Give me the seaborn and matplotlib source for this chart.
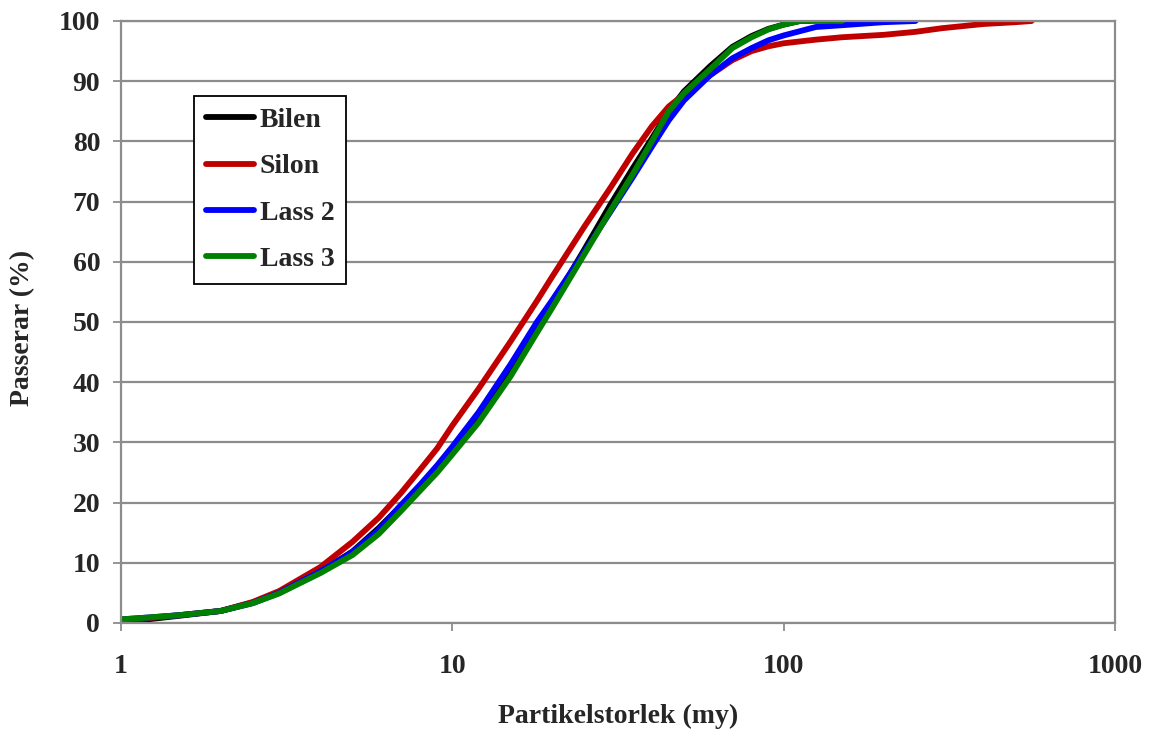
import numpy as np
import pandas as pd
import matplotlib
matplotlib.use("Agg")
import matplotlib.pyplot as plt
import seaborn as sns

# Particle size distributions (cumulative % passing vs particle size in my)
series_names = ["Bilen", "Silon", "Lass 2", "Lass 3"]
series_colors = ["#000000", "#C00000", "#0000FF", "#008000"]

bilen_size = [1, 1.2, 1.5, 2, 2.5, 3, 4, 5, 6, 7, 8, 9, 10, 12, 15, 18, 20, 25,
              30, 35, 40, 45, 50, 60, 70, 80, 90, 100, 112, 120]
bilen_pass = [0.2, 0.6, 1.2, 2.0, 3.4, 5.0, 8.5, 11.9, 15.8, 19.5, 22.6, 25.6,
              28.6, 34.0, 41.8, 48.9, 53.0, 62.0, 69.5, 75.5, 80.5, 85.0, 88.3,
              92.5, 95.7, 97.5, 98.7, 99.4, 100.0, 100.0]

silon_size = [1, 1.2, 1.5, 2, 2.5, 3, 4, 5, 6, 7, 8, 9, 10, 12, 15, 18, 20, 25,
              30, 35, 40, 45, 50, 60, 70, 80, 90, 100, 125, 150, 200, 250, 300,
              400, 500, 560]
silon_pass = [0.5, 0.8, 1.3, 2.0, 3.5, 5.3, 9.3, 13.5, 17.5, 21.6, 25.5, 29.0,
              32.8, 38.9, 46.8, 53.5, 57.5, 65.8, 72.3, 78.0, 82.5, 85.8, 87.8,
              91.0, 93.5, 95.0, 95.8, 96.3, 96.9, 97.3, 97.7, 98.2, 98.8, 99.5,
              99.8, 100.0]

lass2_size = [1, 1.2, 1.5, 2, 2.5, 3, 4, 5, 6, 7, 8, 9, 10, 12, 15, 18, 20, 25,
              30, 35, 40, 45, 50, 60, 70, 80, 90, 100, 125, 150, 200, 250]
lass2_pass = [0.6, 0.9, 1.3, 2.0, 3.3, 5.0, 8.6, 11.8, 15.5, 19.6, 23.0, 26.2,
              29.3, 35.0, 43.0, 50.0, 53.6, 61.6, 68.3, 74.0, 79.1, 83.5, 86.8,
              91.0, 93.8, 95.5, 96.8, 97.6, 99.0, 99.3, 99.8, 100.0]

lass3_size = [1, 1.2, 1.5, 2, 2.5, 3, 4, 5, 6, 7, 8, 9, 10, 12, 15, 18, 20, 25,
              30, 35, 40, 45, 50, 60, 70, 80, 90, 100, 112, 125, 150]
lass3_pass = [0.6, 0.9, 1.3, 2.0, 3.3, 4.9, 8.3, 11.3, 14.8, 18.6, 22.0, 25.0,
              28.0, 33.3, 41.0, 48.2, 52.3, 61.2, 68.5, 74.5, 80.0, 85.0, 88.0,
              92.0, 95.5, 97.3, 98.6, 99.4, 100.0, 100.0, 100.0]

x_ticks = [1, 10, 100, 1000]
x_tick_labels = ["1", "10", "100", "1000"]
y_ticks = list(range(0, 101, 10))

frames = []
for name, sizes, passing in zip(
        series_names,
        [bilen_size, silon_size, lass2_size, lass3_size],
        [bilen_pass, silon_pass, lass2_pass, lass3_pass]):
    frames.append(pd.DataFrame({"size": sizes, "passing": passing, "prov": name}))
data = pd.concat(frames, ignore_index=True)

sns.set_style("white")
plt.rcParams["font.family"] = ["Liberation Serif", "DejaVu Serif"]
plt.rcParams["font.weight"] = "bold"

FS = 20

fig = plt.figure(figsize=(11.5, 7.31), dpi=100)
ax = fig.add_axes([121 / 1150, 1 - 623 / 731, 994 / 1150, 602 / 731])

sns.lineplot(data=data, x="size", y="passing", hue="prov",
             hue_order=series_names, palette=series_colors,
             estimator=None, sort=False, linewidth=4.2, ax=ax)

ax.set_xscale("log")
ax.set_xlim(1, 1000)
ax.set_ylim(0, 100)
ax.set_xticks(x_ticks)
ax.set_xticklabels(x_tick_labels)
ax.xaxis.set_minor_locator(matplotlib.ticker.NullLocator())
ax.set_yticks(y_ticks)

grid_col = "#8C8C8C"
ax.yaxis.grid(True, color=grid_col, linewidth=1.6)
ax.xaxis.grid(False)
ax.set_axisbelow(True)
for side in ["left", "bottom", "right", "top"]:
    ax.spines[side].set_visible(True)
    ax.spines[side].set_color(grid_col)
    ax.spines[side].set_linewidth(1.6)

ax.tick_params(axis="x", which="major", direction="out", length=6,
               width=1.3, color=grid_col, labelsize=FS, pad=16,
               bottom=True)
ax.tick_params(axis="y", which="major", direction="out", length=6,
               width=1.3, color=grid_col, labelsize=FS, pad=9,
               left=True)
for lbl in ax.get_xticklabels() + ax.get_yticklabels():
    lbl.set_fontweight("bold")

ax.set_xlabel("Partikelstorlek (my)", fontsize=FS, fontweight="bold")
ax.set_ylabel("Passerar (%)", fontsize=FS, fontweight="bold")
ax.xaxis.set_label_coords(0.5, (623 - 716) / 602)
ax.xaxis.label.set_va("center")
ax.yaxis.set_label_coords((23 - 121) / 994, 0.49)
ax.yaxis.label.set_va("center")

handles, labels = ax.get_legend_handles_labels()
leg = ax.legend(handles, labels, loc="upper left",
                bbox_to_anchor=(194 / 1150, 1 - 96 / 731),
                bbox_transform=fig.transFigure, borderaxespad=0,
                frameon=True, fancybox=False, framealpha=1,
                edgecolor="black", handlelength=1.75, handletextpad=0.2,
                labelspacing=0.75, borderpad=0.42,
                prop={"family": "Liberation Serif", "weight": "bold",
                      "size": FS})
leg.get_frame().set_linewidth(1.3)
for line in leg.get_lines():
    line.set_linewidth(4.2)

fig.savefig("out.png", dpi=100)
